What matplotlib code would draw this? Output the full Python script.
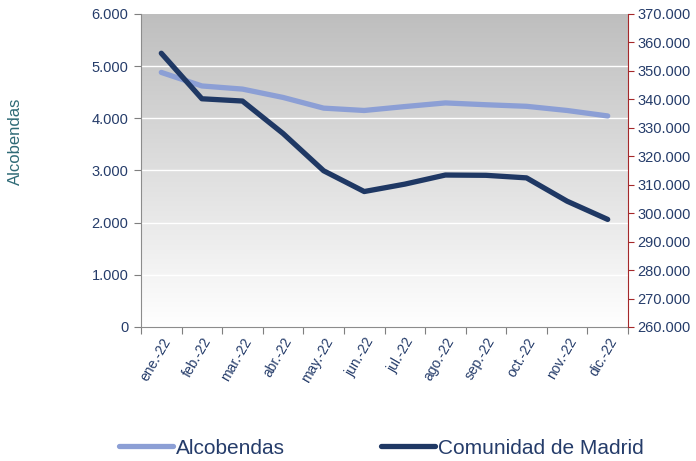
import matplotlib
matplotlib.use("Agg")
import matplotlib.pyplot as plt
import matplotlib.transforms as mtransforms
import numpy as np
from matplotlib.ticker import FuncFormatter, FixedLocator
from matplotlib.colors import LinearSegmentedColormap

plt.rcParams['font.family'] = ['Liberation Sans', 'DejaVu Sans']

months = ["ene.-22", "feb.-22", "mar.-22", "abr.-22", "may.-22", "jun.-22",
          "jul.-22", "ago.-22", "sep.-22", "oct.-22", "nov.-22", "dic.-22"]
alcobendas = [4880, 4620, 4560, 4400, 4195, 4150, 4225, 4295, 4260, 4230, 4150, 4045]
madrid = [356200, 340200, 339400, 328000, 314900, 307600, 310200, 313400, 313300, 312400, 304200, 297800]

txt = "#253C6A"
c_alc = "#8C9FD5"
c_mad = "#1F3864"

fig = plt.figure(figsize=(6.96, 4.61), dpi=100)
ax = fig.add_axes([0.2026, 0.2907, 0.6997, 0.679])
ax2 = ax.twinx()

x = np.arange(len(months))
ax.set_xlim(-0.5, len(months) - 0.5)
ax.set_ylim(0, 6000)
ax2.set_ylim(260000, 370000)

# gradient background
grad = np.linspace(0, 1, 256).reshape(-1, 1)
cmap = LinearSegmentedColormap.from_list("g", ["#FFFFFF", "#BEBEBE"])
ax.imshow(grad, aspect='auto', cmap=cmap, extent=[0, 1, 0, 1],
          transform=ax.transAxes, origin='lower', zorder=0)

ax.set_yticks(np.arange(0, 6001, 1000))
for v in range(1000, 6000, 1000):
    ax.axhline(v, color="white", lw=1.0, zorder=1)

fmt = FuncFormatter(lambda v, p: f"{int(v):,}".replace(",", "."))
ax.yaxis.set_major_formatter(fmt)
ax2.yaxis.set_major_formatter(fmt)
ax2.set_yticks(np.arange(260000, 370001, 10000))

ax.xaxis.set_major_locator(FixedLocator(np.arange(-0.5, len(months), 1.0)))
ax.xaxis.set_major_formatter(FuncFormatter(lambda v, p: ""))
ax.xaxis.set_minor_locator(FixedLocator(x))
labels = ax.set_xticklabels(months, minor=True, rotation=60, ha='right',
                            rotation_mode='anchor', color=txt, fontsize=10)
offset = mtransforms.ScaledTranslation(-5/100, 0, fig.dpi_scale_trans)
for lab in labels:
    lab.set_transform(lab.get_transform() + offset)
ax.tick_params(axis='x', which='minor', length=0, pad=6)
ax.tick_params(axis='x', which='major', length=5, color="#7F7F7F", direction='out')
ax.tick_params(axis='y', length=5, color="#7F7F7F", labelcolor=txt, labelsize=10.5, pad=4)
ax2.tick_params(axis='y', length=4, color="#A5282A", labelcolor=txt, labelsize=10.5, pad=3)

for s in ['top', 'right']:
    ax.spines[s].set_visible(False)
ax.spines['left'].set_color("#8C8C8C")
ax.spines['bottom'].set_color("#8C8C8C")
ax2.spines['top'].set_visible(False)
ax2.spines['left'].set_visible(False)
ax2.spines['bottom'].set_visible(False)
ax2.spines['right'].set_color("#A5282A")

l1, = ax.plot(x, alcobendas, color=c_alc, lw=3.8, solid_capstyle='round', zorder=3,
              label="Alcobendas")
l2, = ax2.plot(x, madrid, color=c_mad, lw=3.8, solid_capstyle='round', zorder=3,
               label="Comunidad de Madrid")
ax.set_zorder(1)
ax2.set_zorder(2)
ax2.patch.set_visible(False)

fig.text(15/696, 1 - 141/461, "Alcobendas", rotation=90, va='center', ha='center',
         color="#2E6A76", fontsize=12)

fig.legend([l1, l2], ["Alcobendas", "Comunidad de Madrid"], loc='center',
           bbox_to_anchor=(0.548, 0.028), ncol=2, frameon=False, fontsize=15,
           handlelength=2.6, handletextpad=0.15, columnspacing=4.6, labelcolor=txt,
           borderaxespad=0, borderpad=0)

fig.savefig("out.png", dpi=100)
